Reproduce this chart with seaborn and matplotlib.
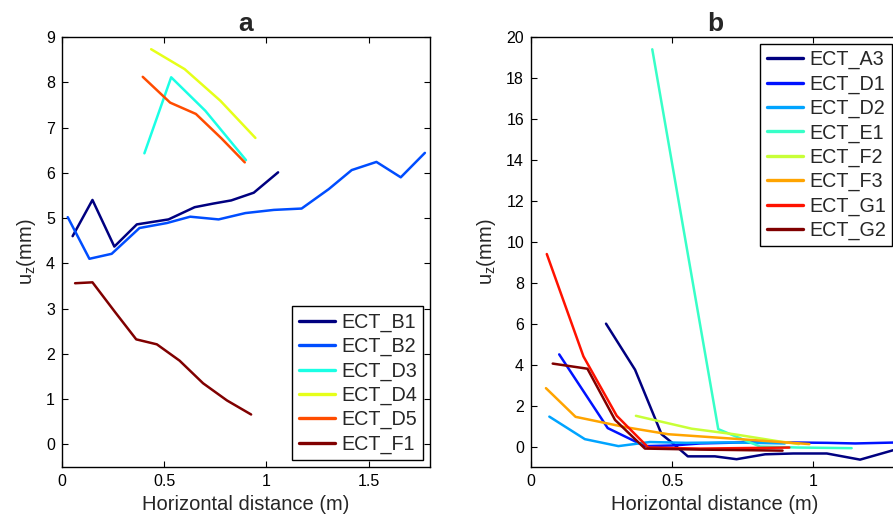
import matplotlib
matplotlib.use("Agg")
import matplotlib.pyplot as plt
from matplotlib.ticker import FuncFormatter
import numpy as np
import pandas as pd
import seaborn as sns

# ---------------- data: panel a ----------------
names_a = ["ECT_B1", "ECT_B2", "ECT_D3", "ECT_D4", "ECT_D5", "ECT_F1"]
x_b1 = [0.052, 0.149, 0.256, 0.366, 0.521, 0.649, 0.74, 0.828, 0.938, 1.057]
y_b1 = [4.60, 5.40, 4.37, 4.86, 4.97, 5.24, 5.32, 5.39, 5.56, 6.01]
x_b2 = [0.028, 0.134, 0.243, 0.379, 0.513, 0.627, 0.766, 0.897, 1.036, 1.172, 1.305, 1.417, 1.538, 1.657, 1.775]
y_b2 = [5.02, 4.10, 4.21, 4.78, 4.89, 5.03, 4.97, 5.11, 5.18, 5.21, 5.64, 6.06, 6.24, 5.90, 6.44]
x_d3 = [0.403, 0.534, 0.701, 0.900]
y_d3 = [6.43, 8.11, 7.37, 6.28]
x_d4 = [0.436, 0.600, 0.775, 0.946]
y_d4 = [8.73, 8.29, 7.59, 6.77]
x_d5 = [0.395, 0.529, 0.655, 0.780, 0.894]
y_d5 = [8.12, 7.55, 7.30, 6.76, 6.23]
x_f1 = [0.064, 0.149, 0.260, 0.363, 0.464, 0.575, 0.690, 0.807, 0.925]
y_f1 = [3.56, 3.58, 2.92, 2.32, 2.21, 1.85, 1.35, 0.97, 0.66]
series_a = [(x_b1, y_b1), (x_b2, y_b2), (x_d3, y_d3), (x_d4, y_d4), (x_d5, y_d5), (x_f1, y_f1)]

# ---------------- data: panel b ----------------
names_b = ["ECT_A3", "ECT_D1", "ECT_D2", "ECT_E1", "ECT_F2", "ECT_F3", "ECT_G1", "ECT_G2"]
x_a3 = [0.266, 0.369, 0.463, 0.499, 0.556, 0.652, 0.729, 0.830, 0.930, 1.049, 1.167, 1.305]
y_a3 = [6.00, 3.75, 0.60, 0.20, -0.48, -0.48, -0.62, -0.38, -0.34, -0.34, -0.64, -0.10]
x_d1 = [0.100, 0.272, 0.404, 0.500, 0.600, 0.750, 0.900, 1.050, 1.150, 1.305]
y_d1 = [4.50, 0.90, 0.02, 0.05, 0.15, 0.20, 0.20, 0.18, 0.15, 0.20]
x_d2 = [0.065, 0.191, 0.310, 0.422, 0.550, 0.700, 0.900]
y_d2 = [1.46, 0.36, 0.02, 0.22, 0.18, 0.20, 0.15]
x_e1 = [0.430, 0.664, 0.812, 0.950, 1.137]
y_e1 = [19.40, 0.85, 0.00, -0.05, -0.08]
x_f2 = [0.372, 0.570, 0.720, 0.880, 0.950]
y_f2 = [1.50, 0.87, 0.60, 0.25, 0.12]
x_f3 = [0.053, 0.158, 0.333, 0.487, 0.720, 0.987]
y_f3 = [2.85, 1.45, 0.95, 0.60, 0.38, 0.12]
x_g1 = [0.056, 0.186, 0.304, 0.416, 0.600, 0.916]
y_g1 = [9.40, 4.40, 1.50, -0.05, -0.10, -0.05]
x_g2 = [0.077, 0.200, 0.298, 0.404, 0.600, 0.892]
y_g2 = [4.05, 3.80, 1.30, -0.10, -0.15, -0.20]
series_b = [(x_a3, y_a3), (x_d1, y_d1), (x_d2, y_d2), (x_e1, y_e1),
            (x_f2, y_f2), (x_f3, y_f3), (x_g1, y_g1), (x_g2, y_g2)]

xticks_a = [0, 0.5, 1, 1.5]
yticks_a = list(range(0, 10))
xticks_b = [0, 0.5, 1]
yticks_b = list(range(0, 21, 2))


def matlab_jet(n):
    out = []
    for t in np.linspace(0, 1, n):
        r = np.clip(1.5 - abs(4 * t - 3), 0, 1)
        g = np.clip(1.5 - abs(4 * t - 2), 0, 1)
        b = np.clip(1.5 - abs(4 * t - 1), 0, 1)
        out.append((float(r), float(g), float(b)))
    return out


def long_frame(names, series):
    rows = []
    for name, (xs, ys) in zip(names, series):
        for i, (xv, yv) in enumerate(zip(xs, ys)):
            rows.append({"series": name, "x": xv, "y": yv, "i": i})
    return pd.DataFrame(rows)


sns.set_style("ticks", {"xtick.direction": "in", "ytick.direction": "in",
                        "axes.edgecolor": "black"})
plt.rcParams["font.family"] = ["Liberation Sans", "DejaVu Sans"]
plt.rcParams["mathtext.fontset"] = "custom"
plt.rcParams["mathtext.rm"] = "Liberation Sans"
plt.rcParams["mathtext.it"] = "Liberation Sans"
plt.rcParams["mathtext.default"] = "regular"

W, H = 893, 526
fig = plt.figure(figsize=(W / 100, H / 100), dpi=100)
axa = fig.add_axes([62 / W, 59 / H, 368 / W, 430 / H])
axb = fig.add_axes([531 / W, 59 / H, 1.305 * 282 / W, 430 / H])

fmt = FuncFormatter(lambda v, p: "%g" % v)


def draw(ax, names, series, xlim, ylim, xticks, yticks, title, loc, bpad):
    df = long_frame(names, series)
    colors = matlab_jet(len(names))
    sns.lineplot(data=df, x="x", y="y", hue="series", hue_order=names,
                 palette=colors, sort=False, estimator=None, units="series",
                 linewidth=1.8, ax=ax)
    ax.set_xlim(*xlim)
    ax.set_ylim(*ylim)
    ax.set_xticks(xticks)
    ax.set_yticks(yticks)
    ax.xaxis.set_major_formatter(fmt)
    ax.yaxis.set_major_formatter(fmt)
    ax.tick_params(axis="both", which="both", direction="in", top=True, right=True,
                   length=4, width=0.8, labelsize=11.5, pad=5, colors="black")
    for s in ax.spines.values():
        s.set_visible(True)
        s.set_linewidth(1.0)
        s.set_color("black")
    ax.set_xlabel("Horizontal distance (m)", fontsize=14.5, labelpad=4)
    ax.set_ylabel("u$_\\mathregular{z}$(mm)", fontsize=14.5, labelpad=6)
    ax.set_title(title, fontsize=19, fontweight="bold", pad=4)
    sns.move_legend(ax, loc, title=None, frameon=True, fontsize=14.2,
                    labelspacing=0.26, handlelength=1.85, handletextpad=0.3,
                    borderpad=0.32, borderaxespad=bpad, fancybox=False,
                    framealpha=1, edgecolor="black")
    leg = ax.get_legend()
    leg.get_frame().set_linewidth(1.0)
    for ln in leg.get_lines():
        ln.set_linewidth(2.4)


draw(axa, names_a, series_a, (0, 1.8), (-0.5, 9), xticks_a, yticks_a, "a", "lower right", 0.35)
draw(axb, names_b, series_b, (0, 1.305), (-1, 20), xticks_b, yticks_b, "b", "upper right", 0.35)

fig.savefig("out.png", dpi=100)
